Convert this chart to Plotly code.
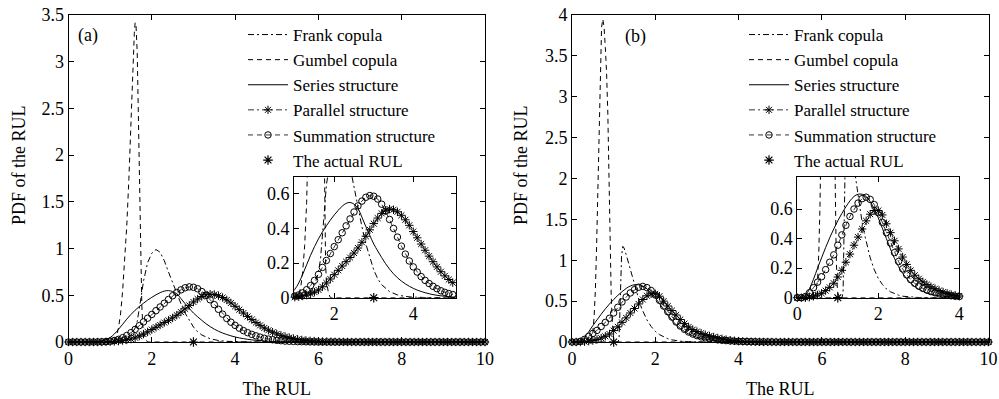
import plotly.graph_objects as go

# ---------------- data ----------------
# common grid for the marker series (step 0.1 from 0 to 10)
X_GRID = [round(i * 0.1, 1) for i in range(101)]

# ---- panel (a) ----
FRANK_A_X = [0, 1.2, 1.3, 1.4, 1.5, 1.6, 1.65, 1.7, 1.75, 1.8, 1.85, 1.9, 2.0, 2.1, 2.2, 2.3,
             2.4, 2.5, 2.6, 2.7, 2.8, 2.9, 3.0, 3.1, 3.2, 3.4, 3.6, 3.8, 4.0, 4.5, 10]
FRANK_A_Y = [0, 0, 0.01, 0.03, 0.07, 0.15, 0.22, 0.34, 0.5, 0.65, 0.76, 0.85, 0.95, 0.99, 0.96, 0.87,
             0.75, 0.63, 0.51, 0.41, 0.31, 0.23, 0.16, 0.11, 0.075, 0.035, 0.016, 0.007, 0.003, 0, 0]

GUMBEL_A_X = [0, 1.0, 1.1, 1.15, 1.2, 1.25, 1.3, 1.35, 1.4, 1.45, 1.5, 1.55, 1.58, 1.6, 1.62,
              1.65, 1.68, 1.7, 1.72, 1.74, 1.76, 1.78, 1.8, 1.85, 1.9, 10]
GUMBEL_A_Y = [0, 0, 0.02, 0.06, 0.15, 0.3, 0.55, 0.85, 1.25, 1.75, 2.4, 3.0, 3.3, 3.42, 3.4,
              3.1, 2.35, 1.75, 1.25, 0.8, 0.4, 0.2, 0.1, 0.03, 0, 0]

SERIES_A = [0, 0, 0, 0, 0, 0, 0.002, 0.005, 0.012, 0.025,
            0.048, 0.085, 0.135, 0.19, 0.245, 0.295, 0.34, 0.38, 0.415, 0.448,
            0.478, 0.505, 0.528, 0.545, 0.55, 0.54, 0.515, 0.465, 0.41, 0.36,
            0.31, 0.27, 0.232, 0.196, 0.165, 0.138, 0.115, 0.096, 0.08, 0.066,
            0.054, 0.044, 0.036, 0.029, 0.023, 0.018, 0.014, 0.011, 0.008, 0.006,
            0.004, 0.003, 0.002, 0.001, 0.001, 0, 0, 0, 0, 0,
            0, 0, 0, 0, 0, 0, 0, 0, 0, 0,
            0, 0, 0, 0, 0, 0, 0, 0, 0, 0,
            0, 0, 0, 0, 0, 0, 0, 0, 0, 0,
            0, 0, 0, 0, 0, 0, 0, 0, 0, 0,
            0]

PARALLEL_A = [0, 0, 0, 0, 0, 0, 0, 0, 0, 0.001,
              0.003, 0.006, 0.010, 0.015, 0.022, 0.032, 0.045, 0.063, 0.085, 0.108,
              0.133, 0.158, 0.183, 0.208, 0.232, 0.258, 0.287, 0.320, 0.355, 0.392,
              0.428, 0.460, 0.487, 0.505, 0.512, 0.508, 0.496, 0.476, 0.450, 0.418,
              0.382, 0.346, 0.310, 0.274, 0.240, 0.208, 0.178, 0.150, 0.126, 0.105,
              0.087, 0.071, 0.058, 0.047, 0.037, 0.029, 0.022, 0.017, 0.013, 0.010,
              0.007, 0.005, 0.004, 0.003, 0.002, 0.001, 0.001, 0, 0, 0,
              0, 0, 0, 0, 0, 0, 0, 0, 0, 0,
              0, 0, 0, 0, 0, 0, 0, 0, 0, 0,
              0, 0, 0, 0, 0, 0, 0, 0, 0, 0,
              0]

SUMMATION_A = [0, 0, 0, 0, 0, 0, 0, 0.001, 0.002, 0.005,
               0.010, 0.016, 0.028, 0.046, 0.070, 0.100, 0.135, 0.175, 0.215, 0.255,
               0.295, 0.335, 0.375, 0.415, 0.455, 0.495, 0.530, 0.558, 0.580, 0.590,
               0.586, 0.570, 0.540, 0.500, 0.452, 0.400, 0.350, 0.298, 0.252, 0.212,
               0.178, 0.148, 0.122, 0.100, 0.082, 0.066, 0.052, 0.040, 0.031, 0.024,
               0.018, 0.014, 0.010, 0.008, 0.006, 0.004, 0.003, 0.002, 0.001, 0.001,
               0, 0, 0, 0, 0, 0, 0, 0, 0, 0,
               0, 0, 0, 0, 0, 0, 0, 0, 0, 0,
               0, 0, 0, 0, 0, 0, 0, 0, 0, 0,
               0, 0, 0, 0, 0, 0, 0, 0, 0, 0,
               0]

ACTUAL_A = 3.0

# ---- panel (b) ----
FRANK_B_X = [0, 1.1, 1.13, 1.15, 1.17, 1.19, 1.22, 1.25, 1.3, 1.35, 1.4, 1.45, 1.5, 1.55, 1.6,
             1.65, 1.7, 1.75, 1.8, 1.9, 2.0, 2.1, 2.2, 2.3, 2.4, 2.5, 2.6, 2.8, 3.0, 3.2, 10]
FRANK_B_Y = [0, 0, 0.03, 0.3, 0.75, 1.05, 1.17, 1.15, 1.07, 0.98, 0.88, 0.78, 0.68, 0.59, 0.51,
             0.44, 0.38, 0.32, 0.27, 0.19, 0.13, 0.09, 0.06, 0.04, 0.026, 0.017, 0.01, 0.004, 0.001, 0, 0]

GUMBEL_B_X = [0, 0.4, 0.45, 0.5, 0.53, 0.56, 0.59, 0.62, 0.65, 0.68, 0.71, 0.74, 0.77, 0.8,
              0.83, 0.86, 0.88, 0.9, 0.92, 0.94, 0.96, 0.98, 1.0, 1.05, 10]
GUMBEL_B_Y = [0, 0, 0.02, 0.12, 0.3, 0.62, 1.15, 1.9, 2.7, 3.4, 3.85, 3.95, 3.85, 3.6,
              3.3, 2.8, 2.2, 1.5, 0.95, 0.6, 0.3, 0.1, 0.03, 0, 0]

SERIES_B = [0, 0, 0.015, 0.06, 0.125, 0.2, 0.27, 0.34, 0.405, 0.465,
            0.52, 0.57, 0.615, 0.655, 0.685, 0.70, 0.70, 0.685, 0.65, 0.60,
            0.54, 0.47, 0.40, 0.33, 0.265, 0.21, 0.165, 0.128, 0.098, 0.075,
            0.057, 0.043, 0.032, 0.024, 0.018, 0.013, 0.010, 0.008, 0.006, 0.004,
            0.003, 0.002, 0.002, 0.001, 0.001, 0, 0, 0, 0, 0,
            0, 0, 0, 0, 0, 0, 0, 0, 0, 0,
            0, 0, 0, 0, 0, 0, 0, 0, 0, 0,
            0, 0, 0, 0, 0, 0, 0, 0, 0, 0,
            0, 0, 0, 0, 0, 0, 0, 0, 0, 0,
            0, 0, 0, 0, 0, 0, 0, 0, 0, 0,
            0]

PARALLEL_B = [0, 0, 0, 0.004, 0.010, 0.018, 0.030, 0.048, 0.070, 0.098,
              0.140, 0.185, 0.240, 0.295, 0.355, 0.410, 0.465, 0.520, 0.565, 0.590,
              0.590, 0.560, 0.500, 0.440, 0.385, 0.330, 0.275, 0.225, 0.185, 0.152,
              0.128, 0.107, 0.089, 0.074, 0.061, 0.049, 0.038, 0.029, 0.021, 0.015,
              0.011, 0.008, 0.006, 0.004, 0.003, 0.002, 0.001, 0.001, 0, 0,
              0, 0, 0, 0, 0, 0, 0, 0, 0, 0,
              0, 0, 0, 0, 0, 0, 0, 0, 0, 0,
              0, 0, 0, 0, 0, 0, 0, 0, 0, 0,
              0, 0, 0, 0, 0, 0, 0, 0, 0, 0,
              0, 0, 0, 0, 0, 0, 0, 0, 0, 0,
              0]

SUMMATION_B = [0, 0, 0.008, 0.033, 0.068, 0.105, 0.142, 0.190, 0.240, 0.290,
               0.355, 0.425, 0.490, 0.550, 0.600, 0.640, 0.670, 0.680, 0.665, 0.630,
               0.575, 0.510, 0.440, 0.370, 0.305, 0.245, 0.195, 0.155, 0.122, 0.097,
               0.078, 0.063, 0.051, 0.041, 0.033, 0.026, 0.021, 0.017, 0.013, 0.010,
               0.008, 0.006, 0.005, 0.004, 0.003, 0.002, 0.002, 0.001, 0.001, 0,
               0, 0, 0, 0, 0, 0, 0, 0, 0, 0,
               0, 0, 0, 0, 0, 0, 0, 0, 0, 0,
               0, 0, 0, 0, 0, 0, 0, 0, 0, 0,
               0, 0, 0, 0, 0, 0, 0, 0, 0, 0,
               0, 0, 0, 0, 0, 0, 0, 0, 0, 0,
               0]

ACTUAL_B = 1.0

NAMES = ["Frank copula", "Gumbel copula", "Series structure",
         "Parallel structure", "Summation structure", "The actual RUL"]

MAIN_YMAX = [3.5, 4.0]
INSET_XRANGE = [[0.98, 5.07], [0.0, 4.0]]
INSET_YMAX = [0.7, 0.82]
INSET_XTICKS = [[2, 4], [0, 2, 4]]

# ---------------- styling ----------------
FONT = "Liberation Serif"
BLACK = "black"
DASHDOT = "6px,3px,2px,3px"
DASH = "5px,4px"
TICK_SIZE = 18

fig = go.Figure()

panels = [
    dict(frank=(FRANK_A_X, FRANK_A_Y), gumbel=(GUMBEL_A_X, GUMBEL_A_Y), series=SERIES_A,
         parallel=PARALLEL_A, summation=SUMMATION_A, actual=ACTUAL_A),
    dict(frank=(FRANK_B_X, FRANK_B_Y), gumbel=(GUMBEL_B_X, GUMBEL_B_Y), series=SERIES_B,
         parallel=PARALLEL_B, summation=SUMMATION_B, actual=ACTUAL_B),
]


def add_panel(p, xa, ya, legend, showlegend, xrange=None):
    def filt(xs, ys):
        if xrange is None:
            return xs, ys
        pairs = [(x, y) for x, y in zip(xs, ys) if xrange[0] - 1e-9 <= x <= xrange[1] + 1e-9]
        return [a for a, _ in pairs], [b for _, b in pairs]

    common = dict(xaxis=xa, yaxis=ya, legend=legend, showlegend=showlegend)
    fig.add_trace(go.Scatter(x=p["frank"][0], y=p["frank"][1], mode="lines", name=NAMES[0],
                             line=dict(color=BLACK, width=1, dash=DASHDOT), **common))
    fig.add_trace(go.Scatter(x=p["gumbel"][0], y=p["gumbel"][1], mode="lines", name=NAMES[1],
                             line=dict(color=BLACK, width=1, dash=DASH), **common))
    fig.add_trace(go.Scatter(x=X_GRID, y=p["series"], mode="lines", name=NAMES[2],
                             line=dict(color=BLACK, width=1, shape="spline"), **common))
    xs, ys = filt(X_GRID, p["parallel"])
    fig.add_trace(go.Scatter(x=xs, y=ys, mode="lines+markers", name=NAMES[3], cliponaxis=False,
                             line=dict(color=BLACK, width=0.8, dash=DASHDOT),
                             marker=dict(symbol="asterisk-open", size=7, color=BLACK,
                                         line=dict(color=BLACK, width=1)), **common))
    xs, ys = filt(X_GRID, p["summation"])
    fig.add_trace(go.Scatter(x=xs, y=ys, mode="lines+markers", name=NAMES[4], cliponaxis=False,
                             line=dict(color=BLACK, width=0.8, dash=DASH),
                             marker=dict(symbol="circle-open", size=6.5, color=BLACK,
                                         line=dict(color=BLACK, width=1)), **common))
    fig.add_trace(go.Scatter(x=[p["actual"]], y=[0], mode="markers", name=NAMES[5], cliponaxis=False,
                             marker=dict(symbol="asterisk-open", size=8, color=BLACK,
                                         line=dict(color=BLACK, width=1.2)), **common))


add_panel(panels[0], "x", "y", "legend", True)
add_panel(panels[1], "x2", "y2", "legend2", True)
add_panel(panels[0], "x3", "y3", "legend", False, INSET_XRANGE[0])
add_panel(panels[1], "x4", "y4", "legend2", False, INSET_XRANGE[1])

W, H = 999, 399
ax = dict(showline=True, linecolor=BLACK, linewidth=1, mirror="ticks", ticks="inside",
          ticklen=5, tickcolor=BLACK, showgrid=False, zeroline=False,
          tickfont=dict(family=FONT, size=TICK_SIZE, color=BLACK))
title_font = dict(family=FONT, size=18, color=BLACK)

main_x_dom = [[68.5 / W, 485 / W], [572 / W, 988.5 / W]]
main_y_dom = [(H - 342) / H, (H - 15) / H]
inset_x_dom = [[294 / W, 455.5 / W], [797.3 / W, 959.3 / W]]
inset_y_dom = [(H - 297.7) / H, (H - 176.5) / H]

layout = dict(
    width=W, height=H, autosize=False,
    margin=dict(l=0, r=0, t=0, b=0),
    paper_bgcolor="white", plot_bgcolor="white",
    font=dict(family=FONT, color=BLACK, size=17),
)
for i in range(2):
    sx = "" if i == 0 else "2"
    layout["xaxis" + sx] = dict(ax, domain=main_x_dom[i], range=[0, 10], dtick=2, anchor="y" + sx,
                                title=dict(text="The RUL", font=title_font, standoff=17),
                                automargin=False)
    layout["yaxis" + sx] = dict(ax, domain=main_y_dom, range=[0, MAIN_YMAX[i]], dtick=0.5,
                                anchor="x" + sx, automargin=False)
    ix = str(3 + i)
    layout["xaxis" + ix] = dict(ax, domain=inset_x_dom[i], range=INSET_XRANGE[i],
                                tickvals=INSET_XTICKS[i], anchor="y" + ix, automargin=False)
    layout["yaxis" + ix] = dict(ax, domain=inset_y_dom, range=[0, INSET_YMAX[i]],
                                tickvals=[0, 0.2, 0.4, 0.6], anchor="x" + ix, automargin=False)

leg = dict(xanchor="left", yanchor="top", bgcolor="rgba(0,0,0,0)", borderwidth=0,
           font=dict(family=FONT, size=17, color=BLACK), itemwidth=40, tracegroupgap=0)
layout["legend"] = dict(leg, x=243 / W, y=1 - 17 / H)
layout["legend2"] = dict(leg, x=744 / W, y=1 - 17 / H)

ann_font = dict(family=FONT, size=18, color=BLACK)
layout["annotations"] = [
    dict(text="(a)", xref="paper", yref="paper", x=88 / W, y=1 - 35 / H, showarrow=False,
         xanchor="center", yanchor="middle", font=ann_font),
    dict(text="(b)", xref="paper", yref="paper", x=635 / W, y=1 - 36 / H, showarrow=False,
         xanchor="center", yanchor="middle", font=ann_font),
    dict(text="PDF of the RUL", xref="paper", yref="paper", x=19 / W, y=1 - 165 / H,
         showarrow=False, textangle=-90, xanchor="center", yanchor="middle", font=title_font),
    dict(text="PDF of the RUL", xref="paper", yref="paper", x=521 / W, y=1 - 165 / H,
         showarrow=False, textangle=-90, xanchor="center", yanchor="middle", font=title_font),
]

fig.update_layout(**layout)
fig.write_html("out.html")
